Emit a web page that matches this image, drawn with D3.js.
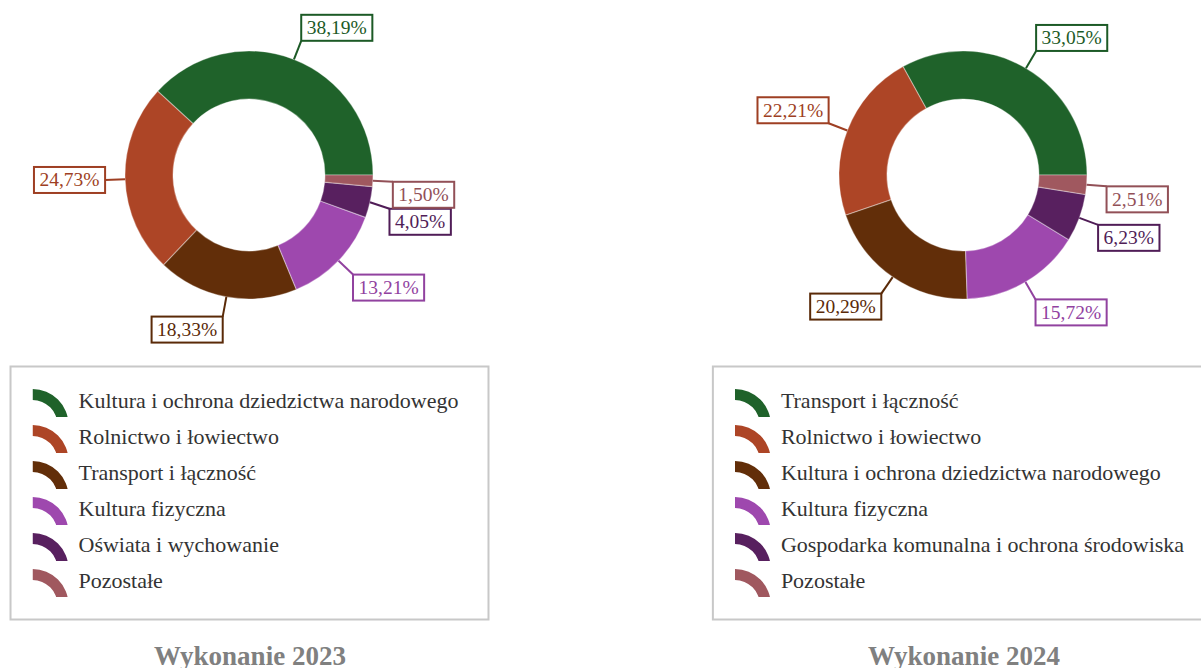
<!DOCTYPE html>
<html lang="pl">
<head>
<meta charset="utf-8">
<script src="https://cdn.jsdelivr.net/npm/d3@7/dist/d3.min.js"></script>
<style>
  html, body { margin: 0; padding: 0; background: #fff; }
  svg { display: block; font-family: "Liberation Serif", "Times New Roman", serif; }
</style>
</head>
<body>
<svg id="chart" width="1201" height="668"></svg>
<script>
// Struktura wydatków – wykonanie 2023 i 2024 (udział procentowy)
const categories2023 = [
  "Kultura i ochrona dziedzictwa narodowego",
  "Rolnictwo i łowiectwo",
  "Transport i łączność",
  "Kultura fizyczna",
  "Oświata i wychowanie",
  "Pozostałe"
];
const values2023 = [38.19, 24.73, 18.33, 13.21, 4.05, 1.50];

const categories2024 = [
  "Transport i łączność",
  "Rolnictwo i łowiectwo",
  "Kultura i ochrona dziedzictwa narodowego",
  "Kultura fizyczna",
  "Gospodarka komunalna i ochrona środowiska",
  "Pozostałe"
];
const values2024 = [33.05, 22.21, 20.29, 15.72, 6.23, 2.51];

const palette = ["#1f622a", "#ad4526", "#622e09", "#9e48ae", "#58205f", "#a0585f"];
const titles = ["Wykonanie 2023", "Wykonanie 2024"];

const plLocale = d3.formatLocale({ decimal: ",", thousands: " ", grouping: [3], currency: ["", " zł"] });
const fmtPct = v => plLocale.format(".2f")(v) + "%";

const svg = d3.select("#chart");

const outerR = 124, innerR = 76;
const panels = [
  { cats: categories2023, vals: values2023, title: titles[0], cx: 249, cy: 175 },
  { cats: categories2024, vals: values2024, title: titles[1], cx: 963, cy: 175 }
];

// slices run counter-clockwise from 3 o'clock
const pie = d3.pie().sort(null).value(d => d)
  .startAngle(Math.PI / 2).endAngle(Math.PI / 2 - 2 * Math.PI);
const arc = d3.arc().innerRadius(innerR).outerRadius(outerR);
const legendArc = d3.arc().innerRadius(25).outerRadius(36).startAngle(0).endAngle(Math.PI / 2);

const defs = svg.append("defs");

panels.forEach((p, pi) => {
  const g = svg.append("g").attr("transform", `translate(${p.cx},${p.cy})`);
  const arcs = pie(p.vals);

  g.selectAll("path.slice")
    .data(arcs)
    .join("path")
    .attr("class", "slice")
    .attr("d", arc)
    .attr("fill", (d, i) => palette[i])
    .attr("stroke", "rgba(255,255,255,0.35)")
    .attr("stroke-width", 1.2);

  // value labels with connector lines
  const boxH = 26, pad = 4.5, lineLen = 20;
  const labels = arcs.map((d, i) => {
    const a = (d.startAngle + d.endAngle) / 2;
    const sx = Math.sin(a), sy = -Math.cos(a);
    const anchor = [outerR * sx, outerR * sy];
    const attach = [(outerR + lineLen) * sx, (outerR + lineLen) * sy];
    return { i, value: d.data, sx, sy, anchor, attach, right: sx > 0 };
  });

  const lab = g.append("g");
  const texts = lab.selectAll("text")
    .data(labels)
    .join("text")
    .attr("font-size", 19.5)
    .attr("text-anchor", "middle")
    .attr("fill", d => d3.color(palette[d.i]).darker(0.25))
    .text(d => fmtPct(d.value));

  texts.each(function (d) {
    d.w = this.getComputedTextLength() + 2 * pad + 2;
    d.x = d.right ? d.attach[0] : d.attach[0] - d.w;
    if (Math.abs(d.sy) < 0.04) d.top = d.attach[1] - boxH / 2;
    else if (d.sy > 0) d.top = d.attach[1];
    else d.top = d.attach[1] - boxH;
  });

  // push overlapping boxes apart on each side
  [true, false].forEach(side => {
    const list = labels.filter(d => d.right === side).sort((a, b) => a.top - b.top);
    for (let k = 1; k < list.length; k++) {
      const prevBottom = list[k - 1].top + boxH;
      if (list[k].top < prevBottom + 1) list[k].top = prevBottom + 1;
    }
  });

  lab.selectAll("line")
    .data(labels)
    .join("line")
    .attr("x1", d => d.anchor[0])
    .attr("y1", d => d.anchor[1])
    .attr("x2", d => d.attach[0])
    .attr("y2", d => Math.max(d.top, Math.min(d.top + boxH, d.attach[1])))
    .attr("stroke", d => d3.color(palette[d.i]).darker(0.25))
    .attr("stroke-width", 2);

  lab.selectAll("rect")
    .data(labels)
    .join("rect")
    .attr("x", d => d.x)
    .attr("y", d => d.top)
    .attr("width", d => d.w)
    .attr("height", boxH)
    .attr("fill", "#fff")
    .attr("stroke", d => d3.color(palette[d.i]).darker(0.25))
    .attr("stroke-width", 2);

  texts.raise()
    .attr("x", d => d.x + d.w / 2)
    .attr("y", d => d.top + boxH / 2 + 6.5);

  // legend
  const leg = svg.append("g");
  const rowH = 36, top0 = 366, firstBase = 408;
  const items = leg.selectAll("g.item")
    .data(p.cats)
    .join("g")
    .attr("class", "item");

  const legTexts = items.append("text")
    .attr("font-size", 22)
    .attr("fill", "#333")
    .attr("y", (d, i) => firstBase + i * rowH)
    .text(d => d);

  let maxW = 0;
  legTexts.each(function () { maxW = Math.max(maxW, this.getComputedTextLength()); });
  const boxW = 23 + 36 + 10 + maxW + 31;
  const L = p.cx + 0.5 - boxW / 2;

  leg.insert("rect", ":first-child")
    .attr("x", L + 1)
    .attr("y", top0 + 0.5)
    .attr("width", boxW - 2)
    .attr("height", 253)
    .attr("fill", "#fff")
    .attr("stroke", "#c8c8c8")
    .attr("stroke-width", 2);

  legTexts.attr("x", L + 69);

  // legend symbol: a clipped quarter of a ring
  items.each(function (d, i) {
    const iy = 389 + i * rowH;
    const id = `legclip-${pi}-${i}`;
    defs.append("clipPath").attr("id", id)
      .append("rect").attr("x", L + 23).attr("y", iy).attr("width", 40).attr("height", 28);
    d3.select(this).append("g")
      .attr("clip-path", `url(#${id})`)
      .append("path")
      .attr("d", legendArc())
      .attr("transform", `translate(${L + 23},${iy + 36})`)
      .attr("fill", palette[i]);
  });

  // title
  svg.append("text")
    .attr("x", p.cx + 1)
    .attr("y", 665)
    .attr("text-anchor", "middle")
    .attr("font-size", 27)
    .attr("font-weight", "bold")
    .attr("fill", "#808080")
    .text(p.title);
});
</script>
</body>
</html>
